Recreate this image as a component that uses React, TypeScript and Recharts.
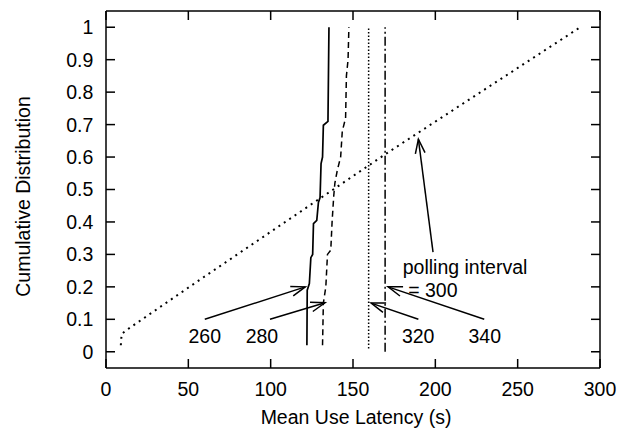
import React from 'react';
import { LineChart, Line, XAxis, YAxis, ReferenceLine, ReferenceDot } from 'recharts';

const FONT = '"Liberation Sans", Arial, Helvetica, sans-serif';
const FS = 19.5;

const xTicks = [0, 50, 100, 150, 200, 250, 300];
const yTicks = [0, 0.1, 0.2, 0.3, 0.4, 0.5, 0.6, 0.7, 0.8, 0.9, 1];

const series260 = [
  { x: 122, y: 0.02 }, { x: 122.2, y: 0.19 }, { x: 123.5, y: 0.21 }, { x: 124.4, y: 0.29 },
  { x: 125.5, y: 0.3 }, { x: 126, y: 0.395 }, { x: 128, y: 0.405 }, { x: 129, y: 0.46 },
  { x: 130, y: 0.475 }, { x: 130.6, y: 0.58 }, { x: 131.5, y: 0.6 }, { x: 132, y: 0.698 },
  { x: 134.8, y: 0.71 }, { x: 135.4, y: 1.0 },
];
const series280 = [
  { x: 131.5, y: 0.02 }, { x: 132, y: 0.15 }, { x: 133.5, y: 0.2 }, { x: 134.5, y: 0.3 },
  { x: 136.5, y: 0.313 }, { x: 137.3, y: 0.4 }, { x: 138.3, y: 0.48 }, { x: 139, y: 0.52 },
  { x: 140.5, y: 0.56 }, { x: 142.5, y: 0.6 }, { x: 143.5, y: 0.68 }, { x: 145.5, y: 0.72 },
  { x: 146, y: 0.85 }, { x: 147, y: 0.9 }, { x: 147.5, y: 1.0 },
];
const series300 = [
  { x: 9, y: 0.02 }, { x: 9.5, y: 0.055 }, { x: 12.5, y: 0.067 }, { x: 55, y: 0.215 },
  { x: 170, y: 0.61 }, { x: 288, y: 1.0 },
];
const series320 = [{ x: 159.5, y: 0.01 }, { x: 159.5, y: 1.0 }];
const series340 = [{ x: 169.5, y: 0.0 }, { x: 169.5, y: 1.0 }];

const arrows = [
  { id: 'a260', from: [60, 0.1], to: [121, 0.2] },
  { id: 'a280', from: [99.6, 0.1], to: [133, 0.151] },
  { id: 'a320', from: [189.7, 0.1], to: [161, 0.15] },
  { id: 'a340', from: [229.7, 0.1], to: [171.3, 0.2] },
  { id: 'a300', from: [198.6, 0.307], to: [189.7, 0.655] },
];

const labels = [
  { text: '260', x: 60, y: 0.05, anchor: 'middle' },
  { text: '280', x: 94.7, y: 0.05, anchor: 'middle' },
  { text: '320', x: 189.6, y: 0.05, anchor: 'middle' },
  { text: '340', x: 230, y: 0.05, anchor: 'middle' },
  { text: 'polling interval', x: 180.2, y: 0.261, anchor: 'start' },
  { text: ' = 300', x: 180.2, y: 0.19, anchor: 'start' },
];

const ArrowShape = (props: any) => {
  const { x1, y1, x2, y2 } = props;
  const ang = Math.atan2(y2 - y1, x2 - x1);
  const L = 15;
  const a = 0.33;
  const bx1 = x2 - L * Math.cos(ang - a);
  const by1 = y2 - L * Math.sin(ang - a);
  const bx2 = x2 - L * Math.cos(ang + a);
  const by2 = y2 - L * Math.sin(ang + a);
  return (
    <g>
      <line x1={x1} y1={y1} x2={x2} y2={y2} stroke="#000" strokeWidth={1.5} />
      <polyline points={`${bx1},${by1} ${x2},${y2} ${bx2},${by2}`} fill="none" stroke="#000" strokeWidth={1.5} />
    </g>
  );
};

const makeTextShape = (text: string, anchor: string) => (props: any) => (
  <text
    x={props.cx}
    y={props.cy}
    textAnchor={anchor}
    dominantBaseline="central"
    fontFamily={FONT}
    fontSize={FS}
    fill="#000"
    style={{ whiteSpace: 'pre' }}
  >
    {text}
  </text>
);

const XTitle = (props: any) => {
  const vb = props.viewBox || {};
  return (
    <text x={vb.x + vb.width / 2 + 3} y={vb.y + vb.height - 7} textAnchor="middle" fontFamily={FONT} fontSize={FS} fill="#000">
      Mean Use Latency (s)
    </text>
  );
};

const YTitle = (props: any) => {
  const vb = props.viewBox || {};
  const cx = vb.x + 15;
  const cy = vb.y + vb.height / 2 + 7;
  return (
    <text
      x={cx}
      y={cy}
      transform={`rotate(-90, ${cx}, ${cy})`}
      textAnchor="middle"
      dominantBaseline="central"
      fontFamily={FONT}
      fontSize={FS}
      fill="#000"
    >
      Cumulative Distribution
    </text>
  );
};

const tickStyle = { fontSize: FS, fill: '#000', fontFamily: FONT };
const axisLine = { stroke: '#000', strokeWidth: 1.5 };
const tickLine = { stroke: '#000', strokeWidth: 1.5 };
const noLabel = () => '';

export default function App() {
  return (
    <div style={{ width: 621, height: 423 }}>
      <LineChart width={621} height={423} margin={{ top: 3, right: 29, bottom: 0, left: 0 }}>
        <XAxis
          xAxisId="b"
          type="number"
          dataKey="x"
          domain={[0, 300]}
          ticks={xTicks}
          allowDataOverflow
          height={63}
          tickSize={0}
          tickMargin={14.5}
          tick={tickStyle}
          axisLine={false}
          tickLine={false}
          label={<XTitle />}
        />
        <XAxis
          xAxisId="bm"
          orientation="bottom"
          mirror
          type="number"
          dataKey="x"
          domain={[0, 300]}
          ticks={xTicks}
          allowDataOverflow
          height={20}
          tickSize={9}
          tickFormatter={noLabel}
          axisLine={axisLine}
          tickLine={tickLine}
        />
        <XAxis
          xAxisId="tm"
          orientation="top"
          mirror
          type="number"
          dataKey="x"
          domain={[0, 300]}
          ticks={xTicks}
          allowDataOverflow
          height={20}
          tickSize={9}
          tickFormatter={noLabel}
          axisLine={axisLine}
          tickLine={tickLine}
        />
        <YAxis
          yAxisId="l"
          type="number"
          dataKey="y"
          domain={[-0.05, 1.05]}
          ticks={yTicks}
          allowDataOverflow
          width={98}
          tickSize={0}
          tickMargin={12.7}
          tick={tickStyle}
          axisLine={false}
          tickLine={false}
          label={<YTitle />}
        />
        <YAxis
          yAxisId="lm"
          orientation="left"
          mirror
          type="number"
          dataKey="y"
          domain={[-0.05, 1.05]}
          ticks={yTicks}
          allowDataOverflow
          width={20}
          tickSize={9}
          tickFormatter={noLabel}
          axisLine={axisLine}
          tickLine={tickLine}
        />
        <YAxis
          yAxisId="rm"
          orientation="right"
          mirror
          type="number"
          dataKey="y"
          domain={[-0.05, 1.05]}
          ticks={yTicks}
          allowDataOverflow
          width={20}
          tickSize={9}
          tickFormatter={noLabel}
          axisLine={axisLine}
          tickLine={tickLine}
        />
        <Line xAxisId="b" yAxisId="l" data={series300} dataKey="y" type="linear" stroke="#000" strokeWidth={2} strokeDasharray="2 4.5" dot={false} isAnimationActive={false} />
        <Line xAxisId="b" yAxisId="l" data={series320} dataKey="y" type="linear" stroke="#000" strokeWidth={1.5} strokeDasharray="1.5 2" dot={false} isAnimationActive={false} />
        <Line xAxisId="b" yAxisId="l" data={series340} dataKey="y" type="linear" stroke="#000" strokeWidth={1.5} strokeDasharray="9 3 2 3" dot={false} isAnimationActive={false} />
        <Line xAxisId="b" yAxisId="l" data={series280} dataKey="y" type="linear" stroke="#000" strokeWidth={1.5} strokeDasharray="6 4" dot={false} isAnimationActive={false} />
        <Line xAxisId="b" yAxisId="l" data={series260} dataKey="y" type="linear" stroke="#000" strokeWidth={1.7} dot={false} isAnimationActive={false} />
        {arrows.map((a) => (
          <ReferenceLine
            key={a.id}
            xAxisId="b"
            yAxisId="l"
            segment={[{ x: a.from[0], y: a.from[1] }, { x: a.to[0], y: a.to[1] }]}
            shape={ArrowShape}
            ifOverflow="visible"
          />
        ))}
        {labels.map((l) => (
          <ReferenceDot
            key={l.text}
            xAxisId="b"
            yAxisId="l"
            x={l.x}
            y={l.y}
            r={0}
            shape={makeTextShape(l.text, l.anchor)}
            ifOverflow="visible"
          />
        ))}
      </LineChart>
    </div>
  );
}
